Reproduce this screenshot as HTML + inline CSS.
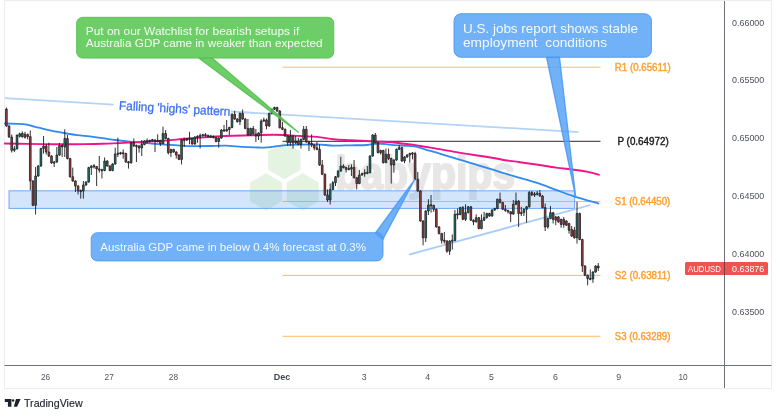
<!DOCTYPE html>
<html lang="en">
<head>
<meta charset="utf-8">
<title>AUDUSD chart</title>
<style>
html,body{margin:0;padding:0;background:#ffffff;}
body{width:780px;height:418px;overflow:hidden;font-family:"Liberation Sans",sans-serif;}
svg{display:block;}
text{font-family:"Liberation Sans",sans-serif;}
.ax{font-size:9.9px;fill:#50535e;}
.lv{font-size:10.0px;}
.co{fill:#ffffff;fill-opacity:0.93;}
</style>
</head>
<body>
<svg width="780" height="418" viewBox="0 0 780 418">
<rect x="0" y="0" width="780" height="418" fill="#ffffff"/>
<!-- frame -->
<path d="M4.5 388.5V0.5H771.5V388.5Z" fill="none" stroke="#eaecf2" stroke-width="1"/>
<!-- watermark -->
<g fill="#e4f3e2">
<polygon points="284.3,142.0 300.4,151.3 300.4,169.9 284.3,179.2 268.2,169.9 268.2,151.3"/>
<polygon points="266.0,173.3 282.1,182.6 282.1,201.2 266.0,210.5 249.9,201.2 249.9,182.6"/>
<polygon points="302.7,173.3 318.8,182.6 318.8,201.2 302.7,210.5 286.6,201.2 286.6,182.6"/>
</g>
<text x="335.2" y="188.6" font-size="46" font-weight="bold" fill="#e7e7e7" stroke="#e7e7e7" stroke-width="2" stroke-linejoin="round" textLength="180" lengthAdjust="spacingAndGlyphs">babypips</text>
<!-- pivot lines -->
<g stroke="#ff9f2e" stroke-width="1" stroke-opacity="0.72" fill="none">
<path d="M282.5 67.2H600.5"/>
<path d="M282.5 201.5H600.5"/>
<path d="M282.5 275.4H600.5"/>
<path d="M282.5 336.3H600.5"/>
</g>
<path d="M282.5 141.3H600.5" stroke="#2a2a2a" stroke-width="1" fill="none"/>
<!-- support zone -->
<rect x="9" y="190.8" width="565.6" height="17.6" fill="rgba(92,160,240,0.27)" stroke="rgba(70,145,240,0.75)" stroke-width="1"/>
<!-- trend lines -->
<path d="M4.8 98.2L113.7 104.6M231 111.5L578.5 132.1" stroke="#b3d3f8" stroke-width="1.8" fill="none"/>
<path d="M409 254.6L590.5 205" stroke="#a9cdf8" stroke-width="1.8" fill="none"/>
<text transform="translate(118.8,109.7) rotate(3.2)" font-size="12.6" fill="#3b6ff5" stroke="#3b6ff5" stroke-width="0.3" textLength="111.5" lengthAdjust="spacingAndGlyphs">Falling 'highs' pattern</text>
<!-- moving averages -->
<path d="M4.8 123.5C7.0 123.5 14.3 123.6 18.0 123.8C21.7 124.0 24.5 124.2 27.0 124.6C29.5 125.0 31.1 125.8 33.0 126.3C34.9 126.8 35.5 126.9 38.5 127.6C41.5 128.3 46.8 129.7 51.0 130.6C55.2 131.5 59.7 132.2 64.0 133.0C68.3 133.8 72.7 134.6 77.0 135.2C81.3 135.8 85.4 135.9 89.7 136.4C94.0 136.9 98.3 137.6 102.6 138.2C106.9 138.8 111.2 139.5 115.4 140.0C119.6 140.5 123.6 140.9 128.0 141.3C132.4 141.8 136.7 142.2 141.8 142.7C146.9 143.2 153.0 143.8 158.5 144.2C164.0 144.6 169.4 144.9 175.0 145.2C180.6 145.5 186.4 146.0 192.0 146.1C197.6 146.2 203.2 146.1 208.8 146.0C214.4 145.9 220.0 145.4 225.5 145.6C231.0 145.8 237.1 146.6 242.0 146.9C246.9 147.2 250.9 147.3 255.0 147.4C259.1 147.5 261.9 147.8 266.7 147.4C271.4 147.1 277.9 145.8 283.5 145.3C289.1 144.9 294.4 144.8 300.0 144.7C305.6 144.5 311.4 144.2 317.0 144.4C322.6 144.6 328.1 145.4 333.7 145.6C339.3 145.8 344.9 145.4 350.5 145.3C356.1 145.2 362.4 145.3 367.0 145.0C371.6 144.7 373.9 143.5 378.0 143.5C382.1 143.5 386.6 144.4 391.7 144.8C396.8 145.2 404.3 145.6 408.5 145.9C412.7 146.2 414.1 146.2 416.9 146.8C419.6 147.4 420.8 148.1 425.0 149.3C429.2 150.6 436.4 152.6 442.0 154.3C447.6 156.0 453.1 157.6 458.7 159.3C464.3 161.0 469.9 162.7 475.5 164.4C481.1 166.1 487.1 167.9 492.0 169.4C496.9 170.9 500.3 172.1 505.0 173.5C509.7 174.9 514.5 176.2 520.0 177.8C525.5 179.4 532.0 181.2 538.0 183.2C544.0 185.2 550.0 187.7 556.0 189.9C562.0 192.1 566.9 194.0 574.0 196.3C581.1 198.6 594.4 202.3 598.5 203.5" stroke="#2f8af2" stroke-width="1.8" fill="none" stroke-linecap="round"/>
<path d="M4.8 143.5C8.3 143.6 17.9 143.8 25.6 143.9C33.3 144.0 42.4 144.1 51.0 144.2C59.6 144.2 68.4 144.3 77.0 144.2C85.6 144.1 94.1 144.1 102.6 143.8C111.1 143.5 118.7 143.1 128.0 142.6C137.3 142.1 147.8 141.7 158.5 141.0C169.2 140.3 180.8 139.1 192.0 138.3C203.2 137.5 215.5 136.5 225.5 136.0C235.5 135.5 243.8 135.6 252.0 135.4C260.2 135.2 267.0 134.6 275.0 134.7C283.0 134.8 293.0 135.6 300.0 136.0C307.0 136.4 311.4 136.4 317.0 136.9C322.6 137.4 328.1 138.6 333.7 139.2C339.3 139.8 344.9 139.9 350.5 140.2C356.1 140.5 362.4 140.8 367.0 141.0C371.6 141.2 373.9 141.4 378.0 141.6C382.1 141.8 386.6 141.9 391.7 142.3C396.8 142.8 404.3 143.8 408.5 144.3C412.7 144.8 414.1 145.0 416.9 145.4C419.6 145.8 420.8 146.1 425.0 146.8C429.2 147.5 436.4 148.6 442.0 149.6C447.6 150.6 453.1 151.7 458.7 152.6C464.3 153.5 469.9 154.3 475.5 155.2C481.1 156.0 487.1 156.9 492.0 157.7C496.9 158.5 500.3 159.4 505.0 160.2C509.7 160.9 514.5 161.4 520.0 162.2C525.5 162.9 532.0 163.8 538.0 164.7C544.0 165.6 550.0 166.8 556.0 167.6C562.0 168.4 568.7 169.0 574.0 169.7C579.3 170.4 583.8 171.1 588.0 171.9C592.2 172.8 597.2 174.3 599.0 174.8" stroke="#f0148c" stroke-width="1.9" fill="none" stroke-linecap="round"/>
<!-- candles -->
<path d="M6.40 107.5V126.8M9.05 125.2V137.8M11.71 134.5V152.5M14.36 146.0V152.0M17.02 134.4V149.6M19.67 132.7V137.5M22.32 131.5V137.7M24.98 131.8V138.5M27.63 133.5V139.4M30.29 130.5V190.0M32.94 180.2V206.1M35.59 167.0V214.5M38.25 165.2V176.8M40.90 147.8V166.8M43.56 136.0V153.6M46.21 144.0V154.5M48.86 142.7V157.0M51.52 155.2V163.8M54.17 161.1V167.0M56.83 147.0V162.8M59.48 143.0V155.8M62.13 144.7V157.0M64.79 129.3V157.0M67.44 135.0V159.4M70.10 157.8V177.6M72.75 167.6V181.8M75.40 180.2V192.0M78.06 185.2V194.4M80.71 189.6V198.6M83.37 181.0V198.6M86.02 181.2V185.8M88.67 166.8V182.8M91.33 165.2V175.0M93.98 164.0V168.5M96.64 166.0V186.0M99.29 156.0V172.6M101.94 168.8V178.5M104.60 157.5V171.3M107.25 160.2V166.8M109.91 165.2V171.3M112.56 163.2V171.3M115.21 147.7V164.8M117.87 137.7V157.0M120.52 151.8V154.7M123.18 149.4V158.6M125.83 152.7V162.8M128.48 161.0V168.6M131.14 141.9V163.6M133.79 138.5V146.8M136.45 144.6V162.0M139.10 145.2V152.7M141.75 140.0V156.0M144.41 140.2V145.3M147.06 138.5V143.5M149.72 139.6V142.4M152.37 138.8V141.7M155.02 139.2V152.0M157.68 134.3V142.4M160.33 139.7V146.0M162.99 126.7V144.3M165.64 130.0V139.3M168.29 137.7V154.4M170.95 148.7V157.0M173.60 148.7V152.8M176.26 151.2V158.6M178.91 154.2V160.2M181.56 139.2V164.4M184.22 137.6V147.0M186.87 138.1V140.9M189.53 131.8V144.3M192.18 137.7V144.8M194.83 136.2V144.8M197.49 135.3V142.7M200.14 133.5V148.5M202.80 133.8V136.7M205.45 133.0V136.7M208.10 134.6V137.4M210.76 135.1V137.9M213.41 135.6V138.4M216.07 136.7V142.3M218.72 137.2V147.7M221.37 129.2V138.8M224.03 125.0V131.9M226.68 120.0V131.8M229.34 126.7V135.0M231.99 113.4V128.3M234.64 110.8V119.8M237.30 118.2V122.6M239.95 112.6V125.0M242.61 109.5V119.8M245.26 118.2V129.2M247.91 119.0V135.8M250.57 127.7V136.0M253.22 126.0V134.8M255.88 129.0V142.0M258.53 132.2V140.0M261.18 119.3V142.7M263.84 117.6V121.9M266.49 118.5V129.3M269.15 112.6V126.8M271.80 108.4V114.2M274.45 106.7V110.0M277.11 106.7V111.8M279.76 110.2V128.5M282.42 121.8V130.1M285.07 128.5V136.8M287.72 135.2V146.0M290.38 130.0V146.0M293.03 135.2V148.6M295.69 136.0V144.0M298.34 137.7V145.3M300.99 138.6V148.6M303.65 126.0V140.2M306.30 126.0V142.8M308.96 141.2V151.0M311.61 134.4V147.0M314.26 144.2V150.3M316.92 142.0V150.2M319.57 144.4V165.8M322.23 160.0V175.1M324.88 173.5V195.8M327.53 189.4V202.0M330.19 183.5V204.5M332.84 181.0V190.2M335.50 176.0V186.0M338.15 170.2V177.6M340.80 156.7V171.8M343.46 164.3V168.5M346.11 166.7V172.6M348.77 165.0V170.0M351.42 164.3V176.0M354.07 160.0V178.5M356.73 176.9V189.4M359.38 170.0V184.3M362.04 172.7V175.8M364.69 169.3V176.8M367.34 166.0V174.2M370.00 155.2V173.4M372.65 134.2V156.8M375.31 133.0V143.4M377.96 141.8V153.4M380.61 149.7V154.5M383.27 149.7V163.5M385.92 148.5V162.7M388.58 148.5V160.0M391.23 157.7V183.6M393.88 159.2V172.7M396.54 148.5V160.8M399.19 145.0V150.1M401.85 146.8V161.8M404.50 156.2V163.2M407.15 154.2V157.8M409.81 152.7V162.7M412.46 152.1V159.3M415.12 151.8V180.2M417.77 172.0V191.8M420.42 190.2V221.8M423.08 220.2V245.3M425.73 210.2V242.0M428.39 199.2V215.0M431.04 195.0V212.6M433.69 204.7V211.8M436.35 208.5V227.7M439.00 226.1V234.4M441.66 232.8V243.6M444.31 232.0V243.6M446.96 240.2V252.8M449.62 240.2V255.0M452.27 234.4V249.5M454.93 210.0V241.3M457.58 208.5V219.3M460.23 206.8V215.3M462.89 206.0V220.1M465.54 204.3V221.0M468.20 206.0V213.4M470.85 206.0V221.0M473.50 219.4V225.2M476.16 214.3V222.6M478.81 216.9V229.3M481.47 214.3V229.4M484.12 211.8V221.0M486.77 212.7V218.5M489.43 212.7V216.8M492.08 209.2V216.8M494.74 207.7V210.8M497.39 198.5V209.3M500.04 192.6V203.4M502.70 201.8V210.1M505.35 205.0V211.8M508.01 209.7V213.5M510.66 211.0V222.0M513.31 200.0V214.8M515.97 192.5V205.1M518.62 200.2V227.0M521.28 206.8V216.0M523.93 208.5V216.0M526.58 206.0V222.7M529.24 191.0V207.6M531.89 191.0V195.8M534.55 192.0V197.0M537.20 191.0V195.5M539.85 190.0V196.8M542.51 195.2V208.4M545.16 203.5V231.0M547.82 217.7V228.6M550.47 206.0V219.3M553.12 211.9V223.5M555.78 216.1V225.2M558.43 216.1V222.7M561.09 218.6V227.7M563.74 217.0V227.7M566.39 220.2V226.0M569.05 222.8V233.6M571.70 226.0V236.9M574.36 227.0V238.6M577.01 201.8V243.6M579.66 212.7V240.3M582.32 238.7V272.0M584.97 265.2V276.1M587.63 274.5V285.3M590.28 269.4V280.3M592.93 271.2V282.8M595.59 265.2V272.8M598.24 263.0V271.0" stroke="#1b1b1f" stroke-width="0.9" fill="none"/>
<path d="M13.51 148.8h1.7V150.3h-1.7zM16.17 135.2h1.7V148.8h-1.7zM18.82 133.8h1.7V136.3h-1.7zM21.47 133.3h1.7V136.8h-1.7zM34.74 176.0h1.7V205.3h-1.7zM37.40 166.0h1.7V176.0h-1.7zM40.05 148.6h1.7V166.0h-1.7zM42.71 146.0h1.7V148.6h-1.7zM53.32 161.9h1.7V163.1h-1.7zM55.98 155.0h1.7V162.0h-1.7zM58.63 145.5h1.7V155.0h-1.7zM63.94 138.5h1.7V147.0h-1.7zM82.52 185.0h1.7V191.0h-1.7zM85.17 182.0h1.7V185.0h-1.7zM87.82 167.6h1.7V182.0h-1.7zM90.48 166.0h1.7V167.6h-1.7zM103.75 161.0h1.7V170.5h-1.7zM111.71 164.0h1.7V170.5h-1.7zM114.36 154.0h1.7V164.0h-1.7zM117.02 153.2h1.7V154.3h-1.7zM119.67 152.7h1.7V153.8h-1.7zM130.29 142.7h1.7V162.8h-1.7zM140.90 144.5h1.7V148.0h-1.7zM143.56 141.0h1.7V144.5h-1.7zM148.87 140.4h1.7V141.6h-1.7zM151.52 139.7h1.7V140.8h-1.7zM156.83 140.4h1.7V141.6h-1.7zM162.14 133.5h1.7V143.5h-1.7zM170.10 149.5h1.7V152.7h-1.7zM180.71 140.0h1.7V159.4h-1.7zM186.02 138.9h1.7V140.1h-1.7zM188.68 138.2h1.7V139.3h-1.7zM193.98 137.0h1.7V144.0h-1.7zM196.64 136.2h1.7V137.3h-1.7zM199.29 135.4h1.7V136.6h-1.7zM201.95 134.7h1.7V135.8h-1.7zM217.87 138.0h1.7V141.5h-1.7zM220.52 130.0h1.7V138.0h-1.7zM225.83 129.5h1.7V131.0h-1.7zM228.49 127.5h1.7V129.5h-1.7zM231.14 114.2h1.7V127.5h-1.7zM239.10 113.4h1.7V121.7h-1.7zM249.72 128.5h1.7V135.0h-1.7zM257.68 133.0h1.7V136.0h-1.7zM260.33 121.0h1.7V133.0h-1.7zM262.99 119.9h1.7V121.1h-1.7zM268.30 113.4h1.7V126.0h-1.7zM270.95 109.2h1.7V113.4h-1.7zM273.60 107.5h1.7V109.2h-1.7zM289.53 136.0h1.7V142.7h-1.7zM294.84 141.0h1.7V143.0h-1.7zM300.14 139.4h1.7V144.4h-1.7zM302.80 129.3h1.7V139.4h-1.7zM329.34 189.4h1.7V200.0h-1.7zM331.99 182.7h1.7V189.4h-1.7zM334.65 176.8h1.7V182.7h-1.7zM337.30 171.0h1.7V176.8h-1.7zM339.95 166.0h1.7V171.0h-1.7zM347.92 168.6h1.7V169.8h-1.7zM350.57 167.5h1.7V169.0h-1.7zM358.53 175.0h1.7V183.5h-1.7zM361.19 173.5h1.7V175.0h-1.7zM363.84 172.7h1.7V173.8h-1.7zM366.49 172.2h1.7V173.4h-1.7zM369.15 156.0h1.7V172.6h-1.7zM371.80 135.0h1.7V156.0h-1.7zM379.76 150.5h1.7V152.6h-1.7zM385.07 154.3h1.7V162.7h-1.7zM393.03 160.0h1.7V165.0h-1.7zM395.69 149.3h1.7V160.0h-1.7zM398.34 147.6h1.7V149.3h-1.7zM403.65 157.0h1.7V161.0h-1.7zM406.30 155.0h1.7V157.0h-1.7zM408.96 153.5h1.7V155.0h-1.7zM424.88 211.0h1.7V237.8h-1.7zM427.54 205.0h1.7V211.0h-1.7zM448.77 241.0h1.7V251.2h-1.7zM451.42 240.2h1.7V241.3h-1.7zM454.08 214.3h1.7V240.5h-1.7zM459.38 207.6h1.7V214.5h-1.7zM464.69 212.6h1.7V219.3h-1.7zM467.35 206.8h1.7V212.6h-1.7zM475.31 217.7h1.7V221.8h-1.7zM480.62 220.2h1.7V228.5h-1.7zM483.27 217.7h1.7V220.2h-1.7zM485.92 213.5h1.7V217.7h-1.7zM491.23 210.0h1.7V216.0h-1.7zM493.89 208.5h1.7V210.0h-1.7zM496.54 199.3h1.7V208.5h-1.7zM512.46 204.3h1.7V214.0h-1.7zM515.12 201.0h1.7V204.3h-1.7zM520.43 212.4h1.7V213.6h-1.7zM523.08 209.3h1.7V212.5h-1.7zM525.73 206.8h1.7V209.3h-1.7zM528.39 192.6h1.7V206.8h-1.7zM533.70 193.9h1.7V195.1h-1.7zM536.35 193.2h1.7V194.3h-1.7zM546.97 218.5h1.7V227.0h-1.7zM549.62 212.7h1.7V218.5h-1.7zM576.16 213.5h1.7V237.8h-1.7zM592.08 272.0h1.7V279.0h-1.7zM594.74 266.0h1.7V272.0h-1.7z" fill="#1f7a6c" stroke="#1b1b1f" stroke-width="0.75"/>
<path d="M5.55 109.0h1.7V126.0h-1.7zM8.20 126.0h1.7V137.0h-1.7zM10.86 137.0h1.7V150.3h-1.7zM24.13 134.2h1.7V137.3h-1.7zM26.78 134.6h1.7V136.6h-1.7zM29.44 136.6h1.7V181.0h-1.7zM32.09 181.0h1.7V205.3h-1.7zM45.36 146.0h1.7V152.0h-1.7zM48.01 152.0h1.7V156.0h-1.7zM50.67 156.0h1.7V163.0h-1.7zM61.28 145.5h1.7V147.0h-1.7zM66.59 138.5h1.7V158.6h-1.7zM69.25 158.6h1.7V176.8h-1.7zM71.90 176.8h1.7V181.0h-1.7zM74.55 181.0h1.7V186.0h-1.7zM77.21 186.0h1.7V191.0h-1.7zM79.86 190.4h1.7V191.6h-1.7zM93.13 165.7h1.7V166.8h-1.7zM95.79 166.5h1.7V169.0h-1.7zM98.44 168.9h1.7V170.1h-1.7zM101.09 169.7h1.7V170.8h-1.7zM106.40 161.0h1.7V166.0h-1.7zM109.06 166.0h1.7V170.5h-1.7zM122.33 152.7h1.7V153.8h-1.7zM124.98 153.5h1.7V162.0h-1.7zM127.63 161.8h1.7V163.0h-1.7zM132.94 142.7h1.7V146.0h-1.7zM135.60 145.4h1.7V146.6h-1.7zM138.25 146.0h1.7V148.0h-1.7zM146.21 140.7h1.7V141.8h-1.7zM154.17 140.0h1.7V141.5h-1.7zM159.48 140.5h1.7V143.5h-1.7zM164.79 133.5h1.7V138.5h-1.7zM167.44 138.5h1.7V152.7h-1.7zM172.75 149.5h1.7V152.0h-1.7zM175.41 152.0h1.7V155.0h-1.7zM178.06 155.0h1.7V159.4h-1.7zM183.37 139.4h1.7V140.6h-1.7zM191.33 138.5h1.7V144.0h-1.7zM204.60 134.7h1.7V135.8h-1.7zM207.25 135.4h1.7V136.6h-1.7zM209.91 135.9h1.7V137.1h-1.7zM212.56 136.4h1.7V137.6h-1.7zM215.22 137.5h1.7V141.5h-1.7zM223.18 129.9h1.7V131.1h-1.7zM233.79 114.2h1.7V119.0h-1.7zM236.45 119.0h1.7V121.7h-1.7zM241.76 113.4h1.7V119.0h-1.7zM244.41 119.0h1.7V128.4h-1.7zM247.06 128.4h1.7V135.0h-1.7zM252.37 128.5h1.7V134.0h-1.7zM255.03 134.0h1.7V136.0h-1.7zM265.64 120.0h1.7V126.0h-1.7zM276.26 107.5h1.7V111.0h-1.7zM278.91 111.0h1.7V127.7h-1.7zM281.57 127.7h1.7V129.3h-1.7zM284.22 129.3h1.7V136.0h-1.7zM286.87 136.0h1.7V142.7h-1.7zM292.18 136.0h1.7V143.0h-1.7zM297.49 141.0h1.7V144.4h-1.7zM305.45 129.3h1.7V142.0h-1.7zM308.11 142.0h1.7V143.5h-1.7zM310.76 143.5h1.7V145.0h-1.7zM313.41 145.0h1.7V147.8h-1.7zM316.07 147.8h1.7V149.4h-1.7zM318.72 149.4h1.7V165.0h-1.7zM321.38 165.0h1.7V174.3h-1.7zM324.03 174.3h1.7V195.0h-1.7zM326.68 195.0h1.7V200.0h-1.7zM342.61 166.0h1.7V167.5h-1.7zM345.26 167.5h1.7V169.3h-1.7zM353.22 167.5h1.7V177.7h-1.7zM355.88 177.7h1.7V183.5h-1.7zM374.46 135.0h1.7V142.6h-1.7zM377.11 142.6h1.7V152.6h-1.7zM382.42 150.5h1.7V162.7h-1.7zM387.73 154.3h1.7V158.5h-1.7zM390.38 158.5h1.7V165.0h-1.7zM401.00 147.6h1.7V161.0h-1.7zM411.61 152.9h1.7V154.1h-1.7zM414.27 153.5h1.7V179.4h-1.7zM416.92 179.4h1.7V191.0h-1.7zM419.57 191.0h1.7V221.0h-1.7zM422.23 221.0h1.7V237.8h-1.7zM430.19 204.7h1.7V205.8h-1.7zM432.84 205.5h1.7V209.3h-1.7zM435.50 209.3h1.7V226.9h-1.7zM438.15 226.9h1.7V233.6h-1.7zM440.81 233.6h1.7V240.3h-1.7zM443.46 240.1h1.7V241.2h-1.7zM446.11 241.0h1.7V251.2h-1.7zM456.73 213.8h1.7V215.0h-1.7zM462.04 207.6h1.7V219.3h-1.7zM470.00 206.8h1.7V220.2h-1.7zM472.65 220.2h1.7V221.8h-1.7zM477.96 217.7h1.7V228.5h-1.7zM488.58 213.5h1.7V216.0h-1.7zM499.19 199.3h1.7V202.6h-1.7zM501.85 202.6h1.7V209.3h-1.7zM504.50 209.3h1.7V210.5h-1.7zM507.16 210.5h1.7V211.8h-1.7zM509.81 211.8h1.7V214.0h-1.7zM517.77 201.0h1.7V213.5h-1.7zM531.04 192.6h1.7V195.0h-1.7zM539.00 193.5h1.7V196.0h-1.7zM541.66 196.0h1.7V207.6h-1.7zM544.31 207.6h1.7V227.0h-1.7zM552.27 212.7h1.7V219.4h-1.7zM554.93 216.9h1.7V220.2h-1.7zM557.58 216.9h1.7V221.9h-1.7zM560.24 219.4h1.7V224.4h-1.7zM562.89 219.4h1.7V224.6h-1.7zM565.54 221.0h1.7V225.2h-1.7zM568.20 223.6h1.7V230.3h-1.7zM570.85 229.4h1.7V236.1h-1.7zM573.51 230.3h1.7V237.8h-1.7zM578.81 213.5h1.7V239.5h-1.7zM581.47 239.5h1.7V266.0h-1.7zM584.12 266.0h1.7V275.3h-1.7zM586.78 275.3h1.7V278.6h-1.7zM589.43 278.2h1.7V279.4h-1.7zM597.39 266.0h1.7V268.0h-1.7z" fill="#a13f3f" stroke="#1b1b1f" stroke-width="0.75"/>

<!-- callouts -->
<g fill="rgba(84,198,77,0.85)" stroke="rgba(84,190,77,0.85)" stroke-width="1.3" stroke-linejoin="round">
<path d="M199 58.2L298.3 132.2L212.4 58.2Z"/>
<rect x="76.6" y="17.3" width="257.2" height="40.8" rx="6" ry="6" stroke-width="1"/>
</g>
<text class="co" x="85.8" y="35.2" font-size="11.7" textLength="213.5" lengthAdjust="spacingAndGlyphs">Put on our Watchlist for bearish setups if</text>
<text class="co" x="85.8" y="47.4" font-size="11.7" textLength="236.8" lengthAdjust="spacingAndGlyphs">Australia GDP came in weaker than expected</text>
<g fill="rgba(80,160,246,0.82)" stroke="rgba(70,150,240,0.82)" stroke-width="1.3" stroke-linejoin="round">
<path d="M546.5 57.2L575.7 197L559.5 57.2Z"/>
<rect x="454" y="13.7" width="197.5" height="43.6" rx="7" ry="7" stroke-width="1"/>
</g>
<text class="co" x="463" y="32.8" font-size="13.5" textLength="175" lengthAdjust="spacingAndGlyphs">U.S. jobs report shows stable</text>
<text class="co" x="463" y="46.7" font-size="13.5" textLength="144" lengthAdjust="spacingAndGlyphs" xml:space="preserve">employment  conditions</text>
<g fill="rgba(80,160,246,0.82)" stroke="rgba(70,150,240,0.82)" stroke-width="1.3" stroke-linejoin="round">
<path d="M375.5 233L414.8 179.4L382.8 239.5Z"/>
<rect x="91.2" y="232.7" width="291.8" height="28.2" rx="6" ry="6" stroke-width="1"/>
</g>
<text class="co" x="100.2" y="250.6" font-size="11.6" textLength="265.8" lengthAdjust="spacingAndGlyphs">Australia GDP came in below 0.4% forecast at 0.3%</text>
<!-- level labels -->
<g class="lv" fill="#ff9f2e" stroke="#ff9f2e" stroke-width="0.4">
<text x="614.8" y="70.7" textLength="56" lengthAdjust="spacingAndGlyphs">R1 (0.65611)</text>
<text x="614.8" y="205.0" textLength="55.4" lengthAdjust="spacingAndGlyphs">S1 (0.64450)</text>
<text x="614.8" y="278.8" textLength="55.6" lengthAdjust="spacingAndGlyphs">S2 (0.63811)</text>
<text x="614.8" y="339.9" textLength="55.6" lengthAdjust="spacingAndGlyphs">S3 (0.63289)</text>
</g>
<text class="lv" x="617.5" y="144.7" fill="#1c1c1c" stroke="#1c1c1c" stroke-width="0.4" textLength="51.2" lengthAdjust="spacingAndGlyphs">P (0.64972)</text>
<!-- axes -->
<path d="M4.5 365.5H771.5" stroke="#6d7078" stroke-width="1" fill="none"/>
<path d="M724.5 1V388" stroke="#6d7078" stroke-width="1" fill="none"/>
<g class="ax">
<text x="732" y="25.5" textLength="32.3" lengthAdjust="spacingAndGlyphs">0.66000</text>
<text x="732" y="82.9" textLength="32.3" lengthAdjust="spacingAndGlyphs">0.65500</text>
<text x="732" y="141.1" textLength="32.3" lengthAdjust="spacingAndGlyphs">0.65000</text>
<text x="732" y="199.4" textLength="32.3" lengthAdjust="spacingAndGlyphs">0.64500</text>
<text x="732" y="257.0" textLength="32.3" lengthAdjust="spacingAndGlyphs">0.64000</text>
<text x="732" y="314.7" textLength="32.3" lengthAdjust="spacingAndGlyphs">0.63500</text>
</g>
<g class="ax" text-anchor="middle">
<text x="45.6" y="380.1" textLength="9.2" lengthAdjust="spacingAndGlyphs">26</text>
<text x="109.2" y="380.1" textLength="9.2" lengthAdjust="spacingAndGlyphs">27</text>
<text x="173.4" y="380.1" textLength="9.2" lengthAdjust="spacingAndGlyphs">28</text>
<text x="282" y="380.1" font-weight="bold" fill="#454851" textLength="16.5" lengthAdjust="spacingAndGlyphs">Dec</text>
<text x="364.2" y="380.1" textLength="4.9" lengthAdjust="spacingAndGlyphs">3</text>
<text x="427.7" y="380.1" textLength="4.9" lengthAdjust="spacingAndGlyphs">4</text>
<text x="491.5" y="380.1" textLength="4.9" lengthAdjust="spacingAndGlyphs">5</text>
<text x="555.4" y="380.1" textLength="4.9" lengthAdjust="spacingAndGlyphs">6</text>
<text x="618.8" y="380.1" textLength="4.9" lengthAdjust="spacingAndGlyphs">9</text>
<text x="683" y="380.1" textLength="9.2" lengthAdjust="spacingAndGlyphs">10</text>
</g>
<!-- price badge -->
<rect x="685" y="262" width="83" height="13" rx="1.6" ry="1.6" fill="#ef5350"/>
<path d="M724.5 262V275" stroke="#7a3a40" stroke-width="1" fill="none"/>
<text x="688" y="271.8" font-size="9.9" fill="#ffffff" textLength="32.8" lengthAdjust="spacingAndGlyphs">AUDUSD</text>
<text x="732" y="271.8" font-size="9.9" fill="#ffffff" textLength="32.3" lengthAdjust="spacingAndGlyphs">0.63876</text>
<!-- tradingview logo -->
<g fill="#1e222d">
<path d="M4.8 399H11.4V406.7H7.9V402.1H4.8Z"/>
<circle cx="13.1" cy="400.4" r="1.25"/>
<path d="M16 399H20.6L17.1 406.7H13.8Z"/>
</g>
<text x="24" y="406.7" font-size="11" fill="#1e222d" stroke="#1e222d" stroke-width="0.15" textLength="58.6" lengthAdjust="spacingAndGlyphs">TradingView</text>
</svg>
</body>
</html>
